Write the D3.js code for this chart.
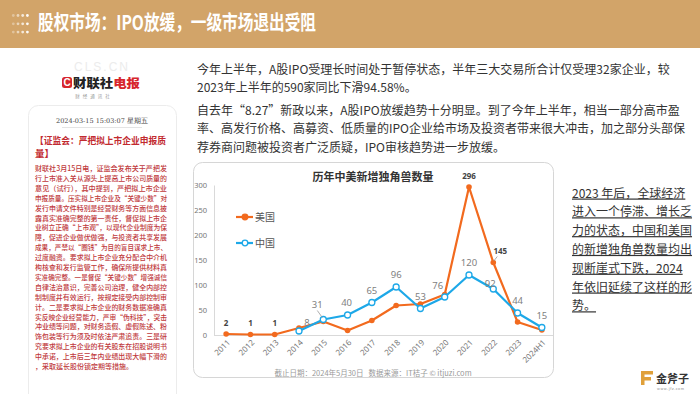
<!DOCTYPE html>
<html>
<head>
<meta charset="utf-8">
<script src="https://cdn.jsdelivr.net/npm/d3@7"></script>
<style>
  body { margin: 0; background: #fff; }
  svg { display: block; font-family: "Noto Sans CJK SC", "Noto Sans", sans-serif; }
</style>
</head>
<body>
<script>
// chart data
const years = ['2011', '2012', '2013', '2014', '2015', '2016', '2017', '2018', '2019', '2020', '2021', '2022', '2023', '2024H1']
const usValues = [2, 1, 1, 14, 27, 9, 29, 59, 62, 81, 296, 145, 26, 10]
const cnValues = [null, null, null, 8, 31, 40, 65, 96, 53, 76, 120, 92, 44, 15]
const yTicks = [0, 50, 100, 150, 200, 250, 300]
const usLabelYears = ['2011', '2012', '2013', '2021', '2022']

// page texts
const pageTitle = '股权市场：IPO放缓，一级市场退出受阻'
const chartTitle = '历年中美新增独角兽数量'
const sourceNote = '截止日期：2024年5月30日   数据来源：IT桔子 © itjuzi.com'
const para1 = ['今年上半年，A股IPO受理长时间处于暂停状态，半年三大交易所合计仅受理32家企业，较',
  '2023年上半年的590家同比下滑94.58%。']
const para2 = ['自去年“8.27”新政以来，A股IPO放缓趋势十分明显。到了今年上半年，相当一部分高市盈',
  '率、高发行价格、高募资、低质量的IPO企业给市场及投资者带来很大冲击，加之部分头部保',
  '荐券商问题被投资者广泛质疑，IPO审核趋势进一步放缓。']
const sideNote = ['2023 年后，全球经济', '进入一个停滞、增长乏', '力的状态，中国和美国',
  '的新增独角兽数量均出', '现断崖式下跌，2024', '年依旧延续了这样的形', '势。']
const newsTitle = ['【证监会：严把拟上市企业申报质', '量】']
const newsBody = [
  '财联社3月15日电，证监会发布关于严把发',
  '行上市准入关从源头上提高上市公司质量的',
  '意见（试行），其中提到，严把拟上市企业',
  '申报质量。压实拟上市企业及“关键少数”对',
  '发行申请文件特别是经营财务等方面信息披',
  '露真实准确完整的第一责任，督促拟上市企',
  '业树立正确“上市观”，以现代企业制度为保',
  '障，促进企业做优做强，与投资者共享发展',
  '成果，严禁以“圈钱”为目的盲目谋求上市、',
  '过度融资。要求拟上市企业充分配合中介机',
  '构核查和发行监管工作，确保所提供材料真',
  '实准确完整。一是督促“关键少数”增强诚信',
  '自律法治意识，完善公司治理，健全内部控',
  '制制度并有效运行，按规定接受内部控制审',
  '计。二是要求拟上市企业的财务数据准确真',
  '实反映企业经营能力，严审“伪科技”，突击',
  '冲业绩等问题，对财务造假、虚假陈述、粉',
  '饰包装等行为须及时依法严肃追责。三是研',
  '究要求拟上市企业的有关股东在招股说明书',
  '中承诺，上市后三年内业绩出现大幅下滑的',
  '，采取延长股份锁定期等措施。'
]

const width = 700, height = 394
const orange = '#F26A1E', blue = '#1DA8E8'

let svg = d3.select('body').append('svg')
  .attr('width', width)
  .attr('height', height)

// ---- header band
svg.append('rect').attr('width', width).attr('height', 48).attr('fill', '#D2A469')
for (let r = 0; r < 3; r++)
  for (let c = 0; c < 4; c++)
    svg.append('circle')
      .attr('cx', 13.3 + c * 4.7).attr('cy', 15.5 + r * 8.3).attr('r', 1.4)
      .attr('fill', '#fff').attr('fill-opacity', 0.35 + c * 0.2)
svg.append('text')
  .attr('x', 38).attr('y', 30)
  .attr('textLength', 278).attr('lengthAdjust', 'spacingAndGlyphs')
  .style('font-size', '20px').style('font-weight', 700).style('fill', '#fff')
  .text(pageTitle)

// ---- left news card
let news = svg.append('g')
news.append('text').attr('x', 102).attr('y', 70.5).attr('text-anchor', 'middle')
  .style('font-size', '12px').style('fill', '#ececec').style('letter-spacing', '2px')
  .style('font-family', 'Liberation Sans').text('CLS.CN')
news.append('rect').attr('x', 62).attr('y', 77).attr('width', 10).attr('height', 11).attr('rx', 2.5).attr('fill', '#D7262C')
news.append('text').attr('x', 67).attr('y', 86).attr('text-anchor', 'middle')
  .style('font-size', '10px').style('font-weight', 700).style('fill', '#fff').style('font-family', 'Liberation Sans').text('C')
let logo = news.append('text').attr('x', 73).attr('y', 87.5)
  .attr('textLength', 67).attr('lengthAdjust', 'spacingAndGlyphs')
  .style('font-size', '12px').style('font-weight', 900)
logo.append('tspan').style('fill', '#222').text('财联社')
logo.append('tspan').style('fill', '#D7262C').text('电报')
news.append('text').attr('x', 94).attr('y', 97.5).attr('text-anchor', 'middle')
  .style('font-size', '4.5px').style('fill', '#999').style('letter-spacing', '3px').text('财经通讯社')

news.append('rect').attr('x', 28.5).attr('y', 105.5).attr('width', 148).attr('height', 300).attr('rx', 10)
  .attr('fill', '#fff').attr('stroke', '#ececec')
news.append('text').attr('x', 102).attr('y', 122.5).attr('text-anchor', 'middle')
  .style('font-size', '6.5px').style('fill', '#444').style('font-family', 'DejaVu Serif, serif')
  .text('2024-03-15 15:03:07 星期五')
news.append('line').attr('x1', 62).attr('x2', 142).attr('y1', 127.5).attr('y2', 127.5).attr('stroke', '#e4e4e4')
news.selectAll('.newsTitle').data(newsTitle).enter().append('text')
  .attr('class', 'newsTitle')
  .attr('x', 35).attr('y', (d, i) => 144 + i * 12.5)
  .attr('textLength', (d, i) => i === 0 ? 131 : null)
  .attr('lengthAdjust', 'spacingAndGlyphs')
  .style('font-size', '9.5px').style('font-weight', 700).style('fill', '#C22A2F')
  .text(d => d)
news.selectAll('.newsBody').data(newsBody).enter().append('text')
  .attr('class', 'newsBody')
  .attr('x', 35).attr('y', (d, i) => 171 + i * 9.9)
  .attr('textLength', (d, i) => i < newsBody.length - 1 ? 132 : null)
  .attr('lengthAdjust', 'spacingAndGlyphs')
  .style('font-size', '7px').style('font-weight', 500).style('fill', '#C0393C')
  .text(d => d)

// ---- middle paragraphs
svg.selectAll('.para').data(para1.concat(para2)).enter().append('text')
  .attr('class', 'para')
  .attr('x', 197)
  .attr('y', (d, i) => [74, 92, 114.5, 133, 151.5][i])
  .style('font-size', '12px').style('fill', '#333')
  .text(d => d)

// ---- chart card
let card = svg.append('g')
card.append('rect').attr('x', 193.5).attr('y', 162.5).attr('width', 360).attr('height', 215).attr('rx', 9)
  .attr('fill', '#fff').attr('stroke', '#d6d6d6')
card.append('text').attr('x', 373).attr('y', 181).attr('text-anchor', 'middle')
  .style('font-size', '11px').style('font-weight', 700).style('fill', '#333').text(chartTitle)

const x = d3.scalePoint().domain(years).range([214, 554]).padding(0.5)
const y = d3.scaleLinear().domain([0, 300]).range([335, 185])

let yAxis = card.append('g').attr('transform', 'translate(214,0)')
  .call(d3.axisLeft(y).tickValues(yTicks).tickSize(0).tickPadding(7))
yAxis.select('.domain').attr('stroke', '#d9d9d9')
yAxis.selectAll('text').style('font-size', '7.5px').style('fill', '#777').style('font-family', 'Noto Sans')

let xAxis = card.append('g').attr('transform', 'translate(0,335)')
  .call(d3.axisBottom(x).tickSize(0).tickPadding(0))
xAxis.select('.domain').attr('d', 'M214,0.5H553').attr('stroke', '#d9d9d9')
xAxis.selectAll('text')
  .attr('y', 0).attr('dy', 0)
  .attr('transform', 'translate(4,8) rotate(-45)')
  .attr('text-anchor', 'end')
  .style('font-size', '8px').style('fill', '#777').style('font-family', 'Noto Sans')

const usData = years.map((yr, i) => ({ yr, v: usValues[i] }))
const cnData = years.map((yr, i) => ({ yr, v: cnValues[i] }))
const line = d3.line().defined(d => d.v !== null).x(d => x(d.yr)).y(d => y(d.v))

card.append('path').datum(usData).attr('d', line)
  .attr('fill', 'none').attr('stroke', orange).attr('stroke-width', 2.2).attr('stroke-linejoin', 'round')
card.selectAll('.usDot').data(usData).enter().append('circle')
  .attr('class', 'usDot')
  .attr('cx', d => x(d.yr)).attr('cy', d => y(d.v)).attr('r', 2.8).attr('fill', orange)

card.append('path').datum(cnData).attr('d', line)
  .attr('fill', 'none').attr('stroke', blue).attr('stroke-width', 2.2).attr('stroke-linejoin', 'round')
card.selectAll('.cnDot').data(cnData.filter(d => d.v !== null)).enter().append('circle')
  .attr('class', 'cnDot')
  .attr('cx', d => x(d.yr)).attr('cy', d => y(d.v)).attr('r', 3)
  .attr('fill', '#fff').attr('stroke', blue).attr('stroke-width', 1.3)

// data labels (nudges follow the reference placement)
const cnNudge = { '2014': [8, -8], '2015': [-6, -14.5], '2016': [-1, -12], '2020': [-7, -11], '2022': [-3, -5] }
const usNudge = { '2022': [7, -11] }
card.selectAll('.cnLabel').data(cnData.filter(d => d.v !== null)).enter().append('text')
  .attr('class', 'cnLabel')
  .attr('x', d => x(d.yr) + (cnNudge[d.yr] || [0, -12])[0])
  .attr('y', d => y(d.v) + (cnNudge[d.yr] || [0, -12])[1])
  .attr('dy', '0.35em').attr('text-anchor', 'middle')
  .style('font-size', '9.5px').style('fill', '#7f7f7f').style('font-family', 'Noto Sans')
  .text(d => d.v)
card.selectAll('.usLabel').data(usData.filter(d => usLabelYears.includes(d.yr))).enter().append('text')
  .attr('class', 'usLabel')
  .attr('x', d => x(d.yr) + (usNudge[d.yr] || [0, -11])[0])
  .attr('y', d => y(d.v) + (usNudge[d.yr] || [0, -11])[1])
  .attr('dy', '0.35em').attr('text-anchor', 'middle')
  .style('font-size', '8px').style('font-weight', 700).style('fill', '#444').style('font-family', 'Noto Sans')
  .text(d => d.v)
// leader lines
card.append('line').attr('x1', x('2015') - 6).attr('y1', y(31) - 9).attr('x2', x('2015') - 1).attr('y2', y(31) - 2)
  .attr('stroke', '#999').attr('stroke-width', 0.8)
card.append('line').attr('x1', x('2022') + 4).attr('y1', y(145) - 6).attr('x2', x('2022') + 0.5).attr('y2', y(145) - 1.5)
  .attr('stroke', '#999').attr('stroke-width', 0.8)

// legend
const legend = [{ name: '美国', color: orange, fill: orange, cy: 217 }, { name: '中国', color: blue, fill: '#fff', cy: 243 }]
let lg = card.selectAll('.legend').data(legend).enter().append('g').attr('class', 'legend')
lg.append('line').attr('x1', 236).attr('x2', 253).attr('y1', d => d.cy).attr('y2', d => d.cy)
  .attr('stroke', d => d.color).attr('stroke-width', 2.2)
lg.append('circle').attr('cx', 245).attr('cy', d => d.cy).attr('r', 2.8)
  .attr('fill', d => d.fill).attr('stroke', d => d.color).attr('stroke-width', 1.3)
lg.append('text').attr('x', 255).attr('y', d => d.cy).attr('dy', '0.35em')
  .style('font-size', '10px').style('fill', '#555').text(d => d.name)

card.append('text').attr('x', 373).attr('y', 376).attr('text-anchor', 'middle')
  .style('font-size', '7.5px').style('fill', '#9a9a9a').style('white-space', 'pre').text(sourceNote)

// ---- right note
svg.selectAll('.side').data(sideNote).enter().append('text')
  .attr('class', 'side')
  .attr('x', 572).attr('y', (d, i) => 197.5 + i * 18.8)
  .style('font-size', '12px').style('fill', '#333').style('text-decoration', 'underline')
  .text(d => d)

// ---- footer logo
let ft = svg.append('g')
ft.append('path').attr('d', 'M641,371H653V374.5H644.5V377H651V380.5H644.5V385H641Z').attr('fill', '#E0A03A')
ft.append('text').attr('x', 656).attr('y', 383)
  .style('font-size', '11px').style('font-weight', 700).style('fill', '#333').text('金斧子')
ft.append('text').attr('x', 657).attr('y', 389.5)
  .style('font-size', '3.5px').style('fill', '#888').style('letter-spacing', '0.6px').text('www.jfz.com')
</script>
</body>
</html>
